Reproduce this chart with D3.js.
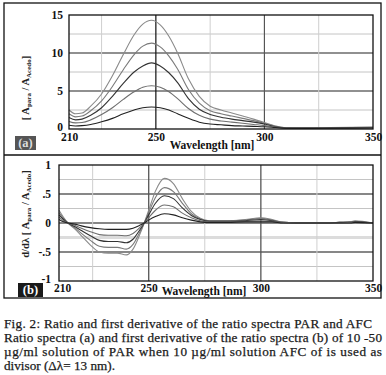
<!DOCTYPE html>
<html lang="en">
<head>
<meta charset="UTF-8">
<script src="https://d3js.org/d3.v7.min.js"></script>
<style>
  body { margin: 0; background: #fff; }
  text { font-family: "Liberation Serif", "DejaVu Serif", serif; }
</style>
</head>
<body>
<svg id="fig" width="386" height="375"></svg>
<script>
// ---- data ----
// (a) ratio spectra, 5 concentrations (50 .. 10 ug/ml)
var wlA = [210, 213, 216, 220, 225, 230, 235, 240, 244, 248, 252, 256, 260, 265, 270, 275, 280, 285, 290, 295, 300, 305, 310, 320, 330, 340, 350];
var ratio50 = [2.5, 2.0, 2.1, 3.0, 4.6, 7.0, 9.8, 12.4, 13.8, 14.3, 13.7, 12.2, 10.0, 6.6, 4.3, 3.0, 2.5, 2.1, 1.7, 1.3, 0.85, 0.4, 0.15, 0.12, 0.18, 0.22, 0.25];
var ratio40 = [2.0, 1.6, 1.7, 2.4, 3.7, 5.6, 7.8, 9.8, 10.9, 11.3, 10.8, 9.6, 7.9, 5.2, 3.4, 2.4, 2.0, 1.7, 1.4, 1.1, 0.75, 0.35, 0.15, 0.12, 0.17, 0.2, 0.22];
var ratio30 = [1.5, 1.2, 1.3, 1.8, 2.8, 4.3, 6.0, 7.5, 8.3, 8.7, 8.3, 7.4, 6.1, 4.0, 2.6, 1.9, 1.55, 1.3, 1.1, 0.9, 0.65, 0.3, 0.13, 0.12, 0.15, 0.18, 0.2];
var ratio20 = [1.0, 0.8, 0.85, 1.2, 1.9, 2.8, 3.9, 4.9, 5.5, 5.7, 5.5, 4.9, 4.0, 2.7, 1.8, 1.3, 1.05, 0.9, 0.75, 0.6, 0.45, 0.25, 0.12, 0.1, 0.13, 0.15, 0.17];
var ratio10 = [0.5, 0.4, 0.45, 0.6, 0.95, 1.4, 2.0, 2.5, 2.8, 2.9, 2.8, 2.5, 2.0, 1.4, 0.9, 0.65, 0.55, 0.45, 0.4, 0.35, 0.3, 0.2, 0.1, 0.08, 0.1, 0.12, 0.13];

// (b) first derivative of the ratio spectra
var wlB = [210, 212, 214, 217, 220, 224, 228, 232, 236, 240, 243, 246, 248, 250, 253, 257, 261, 265, 269, 273, 277, 285, 293, 300, 305, 310, 320, 330, 335, 340, 342, 350];
var deriv50 = [0.22, 0.1, 0, -0.1, -0.22, -0.38, -0.5, -0.52, -0.52, -0.55, -0.45, -0.2, 0, 0.22, 0.55, 0.77, 0.68, 0.42, 0.2, 0.08, 0.04, 0.04, 0.06, 0.09, 0.06, 0.01, 0, 0, 0.01, 0.02, 0.04, 0];
var deriv40 = [0.18, 0.08, 0, -0.08, -0.18, -0.3, -0.4, -0.42, -0.42, -0.45, -0.37, -0.16, 0, 0.18, 0.44, 0.61, 0.54, 0.34, 0.16, 0.07, 0.04, 0.04, 0.05, 0.08, 0.05, 0.01, 0, 0, 0.01, 0.02, 0.03, 0];
var deriv30 = [0.14, 0.06, 0, -0.06, -0.13, -0.22, -0.3, -0.32, -0.32, -0.34, -0.28, -0.12, 0, 0.14, 0.34, 0.47, 0.42, 0.26, 0.13, 0.06, 0.03, 0.03, 0.04, 0.06, 0.04, 0.01, 0, 0, 0.01, 0.01, 0.02, 0];
var deriv20 = [0.1, 0.04, 0, -0.04, -0.09, -0.15, -0.2, -0.21, -0.21, -0.22, -0.18, -0.08, 0, 0.09, 0.22, 0.31, 0.28, 0.17, 0.09, 0.04, 0.02, 0.02, 0.03, 0.04, 0.03, 0.01, 0, 0, 0, 0.01, 0.01, 0];
var deriv10 = [0.06, 0.02, 0, -0.02, -0.05, -0.08, -0.1, -0.11, -0.11, -0.11, -0.09, -0.04, 0, 0.05, 0.11, 0.16, 0.14, 0.09, 0.05, 0.02, 0.01, 0.01, 0.02, 0.02, 0.02, 0, 0, 0, 0, 0, 0.01, 0];

var curveColors = ["#8a8a8a", "#7a7a7a", "#333", "#6e6e6e", "#222"];

var xTicks = [210, 250, 300, 350];
var xGrid = [225, 250, 275, 300, 325];
var yTicksA = [0, 5, 10, 15];
var yGridA = [2.5, 5, 7.5, 10, 12.5];
var yTicksB = [1, 0.5, 0, -0.5, -1];
var yLabelsB = ["1", ".5", "0", "-.5", "-1"];
var yGridB = [0.75, 0.5, 0.25, 0, -0.25, -0.5, -0.75];

var caption = [
  "Fig. 2: Ratio and first derivative of the ratio spectra PAR and AFC",
  "Ratio spectra (a) and first derivative of the ratio spectra (b) of 10 -50",
  "\u00b5g/ml solution of PAR when 10 \u00b5g/ml solution AFC of is used as",
  "divisor (\u0394\u03bb= 13 nm)."
];

var svg = d3.select("#fig");

// outer frame + divider
svg.append("rect").attr("x", 4).attr("y", 3).attr("width", 377).attr("height", 295)
  .attr("fill", "none").attr("stroke", "#111").attr("stroke-width", 1.3);
svg.append("line").attr("x1", 4).attr("x2", 381).attr("y1", 155).attr("y2", 155)
  .attr("stroke", "#111").attr("stroke-width", 1.3);

function drawPanel(opt) {
  var x = d3.scaleLinear().domain([210, 350]).range([opt.left, 373]);
  var y = d3.scaleLinear().domain(opt.yDomain).range([opt.bottom, opt.top]);
  var g = svg.append("g");

  // horizontal grid
  g.selectAll(".hg").data(opt.yGrid).enter().append("line")
    .attr("x1", x(210)).attr("x2", x(350))
    .attr("y1", function(d) { return y(d); }).attr("y2", function(d) { return y(d); })
    .attr("stroke", function(d) { return opt.hStyle(d)[0]; })
    .attr("stroke-width", function(d) { return opt.hStyle(d)[1]; });

  // vertical grid
  g.selectAll(".vg").data(xGrid).enter().append("line")
    .attr("y1", y(opt.yDomain[0])).attr("y2", y(opt.yDomain[1]))
    .attr("x1", function(d) { return x(d); }).attr("x2", function(d) { return x(d); })
    .attr("stroke", function(d) { return opt.vStyle(d)[0]; })
    .attr("stroke-width", function(d) { return opt.vStyle(d)[1]; });

  // curves
  var line = d3.line()
    .x(function(d) { return x(d[0]); })
    .y(function(d) { return y(d[1]); })
    .curve(d3.curveMonotoneX);
  opt.series.forEach(function(s, i) {
    g.append("path")
      .datum(opt.wl.map(function(w, j) { return [w, s[j]]; }))
      .attr("fill", "none")
      .attr("stroke", curveColors[i])
      .attr("stroke-width", 1.1)
      .attr("d", line);
  });

  // plot frame
  g.append("rect").attr("x", x(210)).attr("y", y(opt.yDomain[1]))
    .attr("width", x(350) - x(210)).attr("height", y(opt.yDomain[0]) - y(opt.yDomain[1]))
    .attr("fill", "none").attr("stroke", "#111").attr("stroke-width", 1.3);

  // y axis labels
  var yAxis = d3.axisLeft(y).tickValues(opt.yTicks).tickSize(0).tickPadding(opt.yPad)
    .tickFormat(opt.yFormat);
  var ya = g.append("g").attr("transform", "translate(" + x(210) + ",0)").call(yAxis);
  ya.select(".domain").remove();
  ya.selectAll("text").attr("font-weight", "bold").attr("font-size", 11.5).attr("fill", "#111");
  // lowest label sits a little higher, like the original
  ya.selectAll(".tick").filter(function(d) { return d == opt.yDomain[0]; })
    .select("text").attr("dy", "0.1em");

  // x axis labels
  var xAxis = d3.axisBottom(x).tickValues(xTicks).tickSize(0).tickPadding(opt.xPad)
    .tickFormat(d3.format("d"));
  var xa = g.append("g").attr("transform", "translate(0," + y(opt.yDomain[0]) + ")").call(xAxis);
  xa.select(".domain").remove();
  xa.selectAll("text").attr("font-weight", "bold").attr("font-size", 11.5).attr("fill", "#111");
  xa.selectAll(".tick").filter(function(d) { return d == 210; })
    .select("text").attr("dx", opt.firstDx);

  // x title
  g.append("text").attr("x", opt.xTitleX).attr("y", opt.xTitleY)
    .attr("text-anchor", "middle").attr("font-weight", "bold").attr("font-size", 11.5)
    .attr("fill", "#111").text("Wavelength [nm]");

  // y title (rotated)
  var yt = g.append("text")
    .attr("transform", "translate(29," + opt.yTitleY + ") rotate(-90)")
    .attr("text-anchor", "middle").attr("font-weight", "bold").attr("font-size", 10.5)
    .attr("fill", "#222");
  yt.append("tspan").text(opt.yTitlePrefix + "[ A");
  yt.append("tspan").attr("font-size", 7).attr("dy", 2).text("para");
  yt.append("tspan").attr("dy", -2).text(" / A");
  yt.append("tspan").attr("font-size", 7).attr("dy", 2).text("Acedo");
  yt.append("tspan").attr("dy", -2).text("]");

  // panel tag
  g.append("rect").attr("x", opt.tag.x).attr("y", opt.tag.y).attr("width", opt.tag.w).attr("height", 14)
    .attr("fill", opt.tag.fill);
  g.append("text").attr("x", opt.tag.x + opt.tag.w / 2).attr("y", opt.tag.y + 11)
    .attr("text-anchor", "middle").attr("font-weight", "bold").attr("font-size", 12.5)
    .attr("fill", opt.tag.color).text(opt.tag.label);
}

drawPanel({
  left: 69, top: 15, bottom: 129, yDomain: [0, 15],
  yGrid: yGridA, yTicks: yTicksA, yFormat: d3.format("d"), yPad: 6, xPad: 4, firstDx: 0,
  hStyle: function(v) { return v % 5 == 0 ? ["#222", 1.1] : ["#c4c4c4", 1]; },
  vStyle: function(v) {
    if (v == 250) return ["#111", 1.2];
    if (v == 300) return ["#555", 1.2];
    return ["#cfcfcf", 1];
  },
  wl: wlA, series: [ratio50, ratio40, ratio30, ratio20, ratio10],
  xTitleX: 212, xTitleY: 149, yTitleY: 88, yTitlePrefix: "",
  tag: { x: 15, y: 136, w: 21, fill: "#555", color: "#ddd", label: "(a)" }
});

drawPanel({
  left: 59, top: 165, bottom: 281, yDomain: [-1, 1],
  yGrid: yGridB, yTicks: yTicksB, yPad: 8, xPad: 3, firstDx: 3,
  yFormat: function(d, i) { return yLabelsB[i]; },
  hStyle: function(v) {
    if (v == -0.25) return ["#dcdcdc", 3];
    return (v * 2) % 1 == 0 ? ["#111", 1.1] : ["#c4c4c4", 1];
  },
  vStyle: function(v) {
    if (v == 250 || v == 300) return ["#555", 1.3];
    return ["#cfcfcf", 1];
  },
  wl: wlB, series: [deriv50, deriv40, deriv30, deriv20, deriv10],
  xTitleX: 204, xTitleY: 295, yTitleY: 214, yTitlePrefix: "d/d\u03bb ",
  tag: { x: 18, y: 283, w: 25, fill: "#1a1a1a", color: "#fff", label: "(b)" }
});

// caption
var capW = [368, 378, 378, null];
svg.selectAll(".cap").data(caption).enter().append("text")
  .attr("x", 4)
  .attr("y", function(d, i) { return 328 + i * 14; })
  .attr("font-size", 13.2)
  .attr("fill", "#1a1a1a")
  .attr("stroke", "#1a1a1a")
  .attr("stroke-width", 0.25)
  .attr("textLength", function(d, i) { return capW[i]; })
  .attr("lengthAdjust", "spacing")
  .text(function(d) { return d; });
</script>
</body>
</html>
